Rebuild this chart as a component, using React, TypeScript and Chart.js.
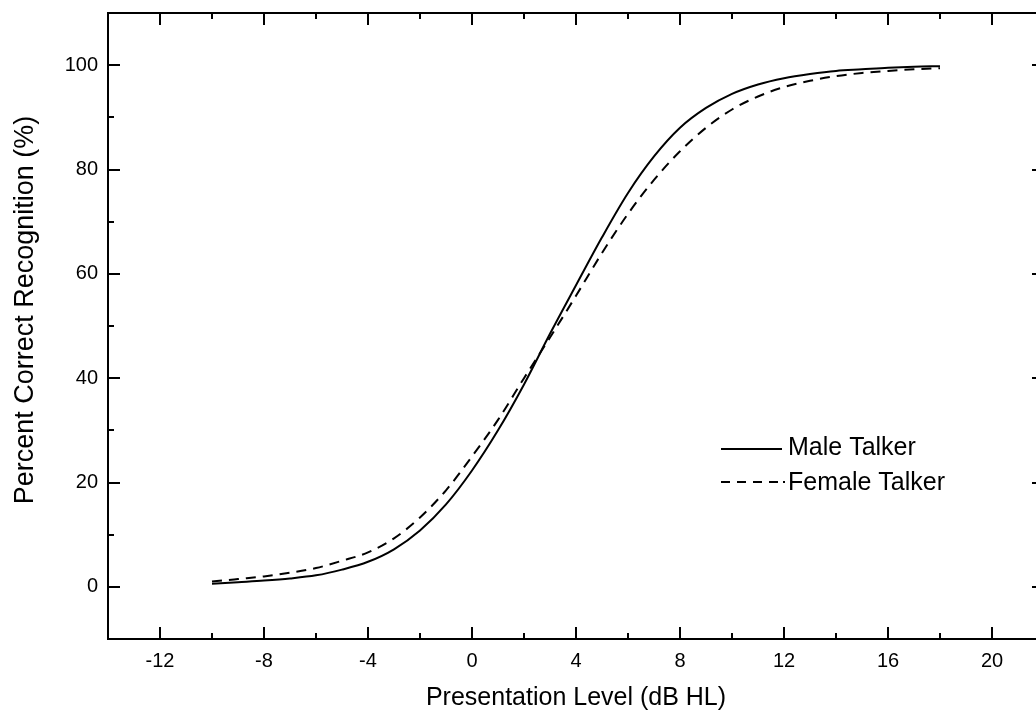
import React, { useEffect, useRef } from "react";
import { Chart, registerables } from "chart.js";

Chart.register(...registerables);

const levels = [-10, -9, -8, -7, -6, -5, -4, -3, -2, -1, 0, 1, 2, 3, 4, 5, 6, 7, 8, 9, 10, 11, 12, 13, 14, 15, 16, 17, 18];
const maleTalker = [0.6, 0.9, 1.2, 1.6, 2.2, 3.3, 4.8, 7.2, 10.8, 15.8, 22.3, 30, 38.8, 48.5, 57.8, 67, 75.5, 82.5, 88, 91.8, 94.5, 96.3, 97.5, 98.3, 98.9, 99.2, 99.5, 99.7, 99.8];
const femaleTalker = [1.0, 1.5, 2.0, 2.7, 3.6, 5.0, 6.6, 9.3, 13.3, 18.5, 25, 32, 40, 47.8, 55.8, 64, 71.5, 78, 83.5, 88, 91.5, 94, 95.8, 97, 97.9, 98.5, 98.9, 99.2, 99.4];

const xMajorTicks = [-12, -8, -4, 0, 4, 8, 12, 16, 20];
const xMinorTicks = [-10, -6, -2, 2, 6, 10, 14, 18];
const yMajorTicks = [0, 20, 40, 60, 80, 100];
const yMinorTicks = [-10, 10, 30, 50, 70, 90, 110];

const seriesLabels = ["Male Talker", "Female Talker"];
const xTitle = "Presentation Level (dB HL)";
const yTitle = "Percent Correct Recognition (%)";

const FONT = "'Liberation Sans', Arial, sans-serif";
const DASH = [10, 7];

const framePlugin = {
  id: "frameAndTicks",
  afterDraw(chart: any) {
    const { ctx, chartArea: a, scales } = chart;
    const xs = scales.x;
    const ys = scales.y;
    ctx.save();
    ctx.strokeStyle = "#000";
    ctx.lineWidth = 2;
    ctx.lineCap = "butt";
    const line = (x1: number, y1: number, x2: number, y2: number) => {
      ctx.beginPath();
      ctx.moveTo(x1, y1);
      ctx.lineTo(x2, y2);
      ctx.stroke();
    };
    ctx.strokeRect(a.left, a.top, a.right - a.left, a.bottom - a.top);
    const major = 12;
    const minor = 6;
    for (const v of xMajorTicks) {
      const p = Math.round(xs.getPixelForValue(v));
      line(p, a.bottom, p, a.bottom - major);
      line(p, a.top, p, a.top + major);
    }
    for (const v of xMinorTicks) {
      const p = Math.round(xs.getPixelForValue(v));
      line(p, a.bottom, p, a.bottom - minor);
      line(p, a.top, p, a.top + minor);
    }
    for (const v of yMajorTicks) {
      const p = Math.round(ys.getPixelForValue(v));
      line(a.left, p, a.left + major, p);
      line(a.right, p, a.right - major, p);
    }
    for (const v of yMinorTicks) {
      const p = Math.round(ys.getPixelForValue(v));
      line(a.left, p, a.left + minor, p);
      line(a.right, p, a.right - minor, p);
    }

    // legend
    const lx = a.left + 613;
    const ly1 = a.top + 436;
    const ly2 = a.top + 469;
    ctx.lineWidth = 2;
    line(lx, ly1, lx + 61, ly1);
    ctx.setLineDash([9, 7]);
    line(lx, ly2, lx + 58, ly2);
    ctx.setLineDash([]);
    ctx.fillStyle = "#000";
    ctx.fillRect(lx + 62, ly2 - 1, 2, 2);
    ctx.font = `25px ${FONT}`;
    ctx.textBaseline = "middle";
    ctx.textAlign = "left";
    ctx.fillText(seriesLabels[0], lx + 67, ly1 - 1);
    ctx.fillText(seriesLabels[1], lx + 67, ly2 + 1);

    // y axis title
    ctx.save();
    ctx.translate(26, a.top + 297);
    ctx.rotate(-Math.PI / 2);
    ctx.font = `27px ${FONT}`;
    ctx.textAlign = "center";
    ctx.textBaseline = "middle";
    ctx.fillText(yTitle, 0, 0);
    ctx.restore();
    ctx.restore();
  },
};

export default function App() {
  const ref = useRef<HTMLCanvasElement | null>(null);
  useEffect(() => {
    if (!ref.current) return;
    const chart = new Chart(ref.current, {
      type: "line",
      data: {
        datasets: [
          {
            label: seriesLabels[0],
            data: levels.map((x, i) => ({ x, y: maleTalker[i] })),
            borderColor: "#000",
            borderWidth: 2,
            pointRadius: 0,
            fill: false,
            cubicInterpolationMode: "monotone",
          },
          {
            label: seriesLabels[1],
            data: levels.map((x, i) => ({ x, y: femaleTalker[i] })),
            borderColor: "#000",
            borderWidth: 2,
            borderDash: DASH,
            pointRadius: 0,
            fill: false,
            cubicInterpolationMode: "monotone",
          },
        ],
      },
      options: {
        animation: false,
        responsive: false,
        maintainAspectRatio: false,
        layout: { padding: { top: 13, right: 16, left: 0, bottom: 0 } },
        plugins: { legend: { display: false }, tooltip: { enabled: false } },
        scales: {
          x: {
            type: "linear",
            min: -14,
            max: 22,
            afterBuildTicks: (s: any) => {
              s.ticks = xMajorTicks.map((v) => ({ value: v }));
            },
            afterFit: (s: any) => {
              s.height = 80;
              s.paddingLeft = 0;
              s.paddingRight = 0;
            },
            grid: { display: false, drawTicks: false },
            border: { display: false },
            ticks: { padding: 10, color: "#000", font: { family: FONT, size: 20 }, maxRotation: 0 },
            title: {
              display: true,
              text: xTitle,
              color: "#000",
              font: { family: FONT, size: 25 },
              padding: { top: 0, bottom: 6 },
            },
          },
          y: {
            type: "linear",
            min: -10,
            max: 110,
            afterBuildTicks: (s: any) => {
              s.ticks = yMajorTicks.map((v) => ({ value: v }));
            },
            afterFit: (s: any) => {
              s.width = 108;
              s.paddingTop = 0;
              s.paddingBottom = 0;
            },
            grid: { display: false, drawTicks: false },
            border: { display: false },
            ticks: { padding: 10, color: "#000", font: { family: FONT, size: 20 } },
            title: { display: false },
          },
        },
      },
      plugins: [framePlugin],
    } as any);
    return () => chart.destroy();
  }, []);
  return (
    <div style={{ position: "fixed", left: 0, top: 0, width: 1036, height: 719, overflow: "hidden", background: "#fff" }}>
      <canvas ref={ref} width={1060} height={719} style={{ display: "block", width: 1060, height: 719 }} />
    </div>
  );
}
